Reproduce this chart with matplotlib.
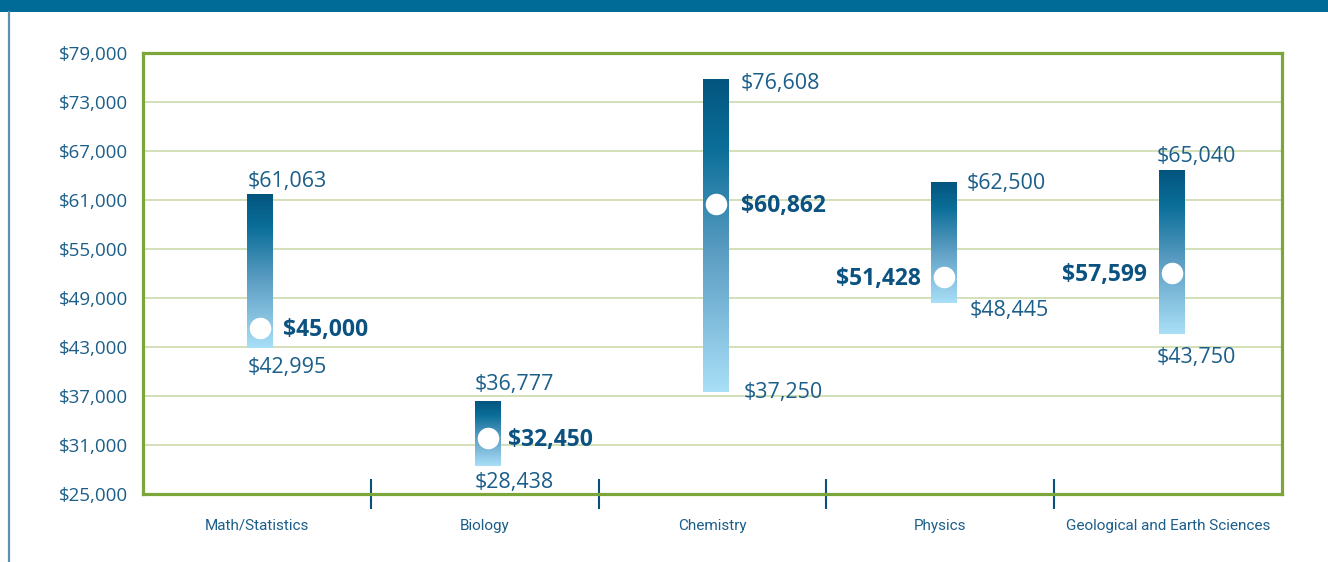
import matplotlib
matplotlib.use("Agg")
import matplotlib.pyplot as plt
import numpy as np
from matplotlib.colors import LinearSegmentedColormap
from matplotlib.lines import Line2D
from matplotlib.patches import Rectangle

# ---------------- data ----------------
categories = ["Math/Statistics", "Biology", "Chemistry", "Physics",
              "Geological and Earth Sciences"]
# labelled values
high_vals = [61063, 36777, 76608, 62500, 65040]
low_vals = [42995, 28438, 37250, 48445, 43750]
median_vals = [45000, 32450, 60862, 51428, 57599]
# bar / marker extents as drawn in the picture
bar_high = [61730, 36270, 75810, 63200, 64550]
bar_low = [42880, 28430, 37490, 48390, 44590]
marker_pos = [45330, 31860, 60510, 51570, 52060]
y_ticks = [25000, 31000, 37000, 43000, 49000, 55000, 61000, 67000, 73000, 79000]

# ---------------- style ----------------
TXT = "#1b5e89"
BOLD = "#0b5280"
GREEN = "#7ca63a"
GRID = "#d3e0b8"
NAVY = "#0b4f78"

plt.rcParams["font.family"] = ["Open Sans", "DejaVu Sans"]

fig = plt.figure(figsize=(13.28, 5.62), dpi=100)
ax = fig.add_axes([143 / 1328, 68 / 562, 1139 / 1328, 441 / 562])

# top band and left rule (figure decorations)
fig.patches.append(Rectangle((0, 1 - 12 / 562), 1, 12 / 562, transform=fig.transFigure,
                             facecolor="#006b97", edgecolor="none", zorder=0))
fig.lines.append(Line2D([8.5 / 1328, 8.5 / 1328], [0, 1 - 12 / 562], transform=fig.transFigure,
                        color="#5d8fb4", linewidth=1.6))

cmap = LinearSegmentedColormap.from_list(
    "salary", [(0.0, "#a9dff7"), (0.45, "#5a9cc2"), (0.78, "#0b6f99"), (1.0, "#03557f")])
grad = np.linspace(0, 1, 256).reshape(-1, 1)

bar_w = 0.114
x_pos = [i + 0.515 for i in range(len(categories))]

for x, lo, hi in zip(x_pos, bar_low, bar_high):
    ax.imshow(grad, cmap=cmap, origin="lower", aspect="auto",
              extent=[x - bar_w / 2, x + bar_w / 2, lo, hi], zorder=3, interpolation="bilinear")

ax.plot(x_pos, marker_pos, linestyle="none", marker="o", markersize=14.5,
        markerfacecolor="white", markeredgecolor="white", zorder=4)

# label offsets in pixels (dx, dy) relative to bar centre / value
hi_off = [(-13, 13), (-13, 17), (25, -4), (23, -1), (-15, 15)]
lo_off = [(-13, -20), (-13, -17), (28, -1), (26, -8), (-15, -23)]
md_off = [(23, -2, "left"), (20, -2, "left"), (25, -2, "left"), (-23, -2, "right"), (-25, -2, "right")]

for i, x in enumerate(x_pos):
    ax.annotate(f"${high_vals[i]:,}", xy=(x, bar_high[i]), xytext=hi_off[i],
                textcoords="offset pixels", ha="left", va="center",
                fontsize=15.5, color=TXT, zorder=5)
    ax.annotate(f"${low_vals[i]:,}", xy=(x, bar_low[i]), xytext=lo_off[i],
                textcoords="offset pixels", ha="left", va="center",
                fontsize=15.5, color=TXT, zorder=5)
    dx, dy, ha = md_off[i]
    ax.annotate(f"${median_vals[i]:,}", xy=(x, marker_pos[i]), xytext=(dx, dy),
                textcoords="offset pixels", ha=ha, va="center",
                fontsize=16.5, fontweight="bold", color=BOLD, zorder=5)

ax.set_xlim(0, len(categories))
ax.set_ylim(y_ticks[0], y_ticks[-1])

ax.set_yticks(y_ticks)
ax.set_yticklabels([f"${v:,}" for v in y_ticks])
ax.tick_params(axis="y", length=0, pad=11, labelsize=13.5, labelcolor=TXT)

ax.set_xticks([i + 0.5 for i in range(len(categories))])
ax.set_xticklabels(categories, fontfamily=["Roboto", "Open Sans"])
ax.tick_params(axis="x", which="major", length=0, pad=18, labelsize=11, labelcolor=TXT)
ax.set_xticks(range(1, len(categories)), minor=True)
ax.tick_params(axis="x", which="minor", direction="inout", length=22, width=1.5, color=NAVY)

ax.grid(axis="y", color=GRID, linewidth=1.4, zorder=1)
ax.set_axisbelow(True)
for s in ax.spines.values():
    s.set_color(GREEN)
    s.set_linewidth(2.3)

fig.savefig("out.png", dpi=100)
